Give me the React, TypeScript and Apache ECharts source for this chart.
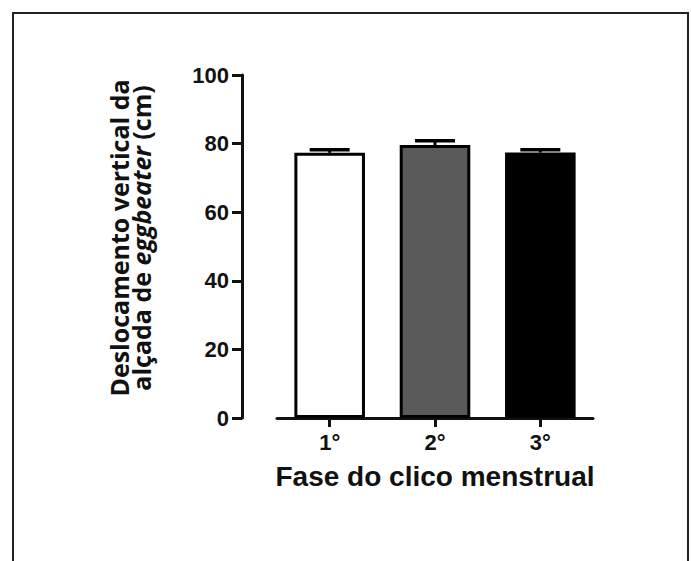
import React, { useEffect, useRef } from "react";
import * as echarts from "echarts";

const categories = ["1°", "2°", "3°"];
const means = [77.3, 79.6, 77.4];
const sems = [0.9, 1.2, 0.8];
const barColors = ["#ffffff", "#5a5a5a", "#000000"];
const yTicks = { min: 0, max: 100, interval: 20 };
const yTitleLine1 = "Deslocamento vertical da";
const yTitleLine2a = "alçada de ";
const yTitleItalic = "eggbeater";
const yTitleLine2b = " (cm)";
const xTitle = "Fase do clico menstrual";

const AX = "'Liberation Sans', Arial, sans-serif";
const TITLE_FONT = "'Open Sans', 'Noto Sans', sans-serif";

export default function App() {
  const ref = useRef<HTMLDivElement>(null);
  useEffect(() => {
    if (!ref.current) return;
    const chart = echarts.init(ref.current, null, { renderer: "svg" });
    const errData = means.map((m, i) => [i, m, m + sems[i]]);
    chart.setOption({
      animation: false,
      backgroundColor: "#ffffff",
      grid: { left: 277, right: 98, top: 75, bottom: 143 },
      xAxis: {
        type: "category",
        data: categories,
        axisLine: { show: true, lineStyle: { color: "#111", width: 3 } },
        axisTick: { show: true, alignWithLabel: true, length: 9, lineStyle: { color: "#111", width: 3 } },
        axisLabel: { fontFamily: AX, fontWeight: "bold", fontSize: 22, color: "#111", margin: 13 },
        name: xTitle,
        nameLocation: "middle",
        nameGap: 44,
        nameTextStyle: { fontFamily: AX, fontWeight: "bold", fontSize: 28, color: "#111" },
      },
      yAxis: {
        type: "value",
        min: yTicks.min,
        max: yTicks.max,
        interval: yTicks.interval,
        offset: 35,
        splitLine: { show: false },
        axisLine: { show: true, lineStyle: { color: "#111", width: 3 } },
        axisTick: { show: true, length: 10, lineStyle: { color: "#111", width: 3 } },
        axisLabel: { fontFamily: AX, fontWeight: "bold", fontSize: 22, color: "#111", margin: 13 },
      },
      graphic: [
        {
          type: "rect",
          shape: { x: 13, y: 13, width: 675, height: 620 },
          style: { fill: "none", stroke: "#222", lineWidth: 2 },
          silent: true,
        },
        {
          type: "text",
          x: 130,
          y: 238,
          rotation: Math.PI / 2,
          style: {
            text:
              "{a|" + yTitleLine1 + "}\n{a|" + yTitleLine2a + "}{i|" + yTitleItalic + "}{a|" + yTitleLine2b + "}",
            align: "center",
            verticalAlign: "middle",
            rich: {
              a: { fontFamily: TITLE_FONT, fontWeight: "bold", fontSize: 25, lineHeight: 22, fill: "#111" },
              i: { fontFamily: TITLE_FONT, fontWeight: "bold", fontStyle: "italic", fontSize: 25, lineHeight: 22, fill: "#111" },
            },
          },
        },
      ],
      series: [
        {
          type: "bar",
          barWidth: "67%",
          data: means.map((v, i) => ({
            value: v,
            itemStyle: { color: barColors[i], borderColor: "#000", borderWidth: 3 },
          })),
          z: 2,
        },
        {
          type: "custom",
          z: 3,
          encode: { x: 0, y: [1, 2] },
          data: errData,
          renderItem: (params: any, api: any) => {
            const idx = api.value(0);
            const lo = api.coord([idx, api.value(1)]);
            const hi = api.coord([idx, api.value(2)]);
            const hw = 20;
            return {
              type: "group",
              children: [
                {
                  type: "line",
                  shape: { x1: lo[0], y1: lo[1], x2: hi[0], y2: hi[1] },
                  style: { stroke: "#000", lineWidth: 3 },
                },
                {
                  type: "line",
                  shape: { x1: hi[0] - hw, y1: hi[1], x2: hi[0] + hw, y2: hi[1] },
                  style: { stroke: "#000", lineWidth: 3.5 },
                },
              ],
            };
          },
        },
      ],
    });
    return () => chart.dispose();
  }, []);
  return (
    <div
      ref={ref}
      style={{ position: "fixed", left: 0, top: 0, width: 691, height: 561 }}
    />
  );
}
